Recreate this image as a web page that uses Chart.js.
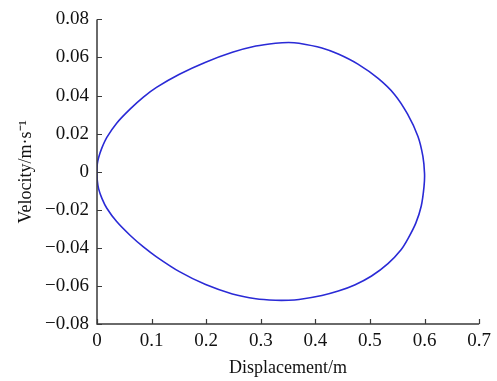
<!DOCTYPE html>
<html>
<head>
<meta charset="utf-8">
<script src="https://cdn.jsdelivr.net/npm/chart.js@4/dist/chart.umd.min.js"></script>
<style>
html,body{margin:0;padding:0;background:#fff;}
#wrap{width:497px;height:381px;}
</style>
</head>
<body>
<div id="wrap"><canvas id="c" width="497" height="381"></canvas></div>
<script>
// Phase trajectory: displacement (m) and velocity (m/s), traced as a closed loop
const displacement = [0, 0.0005, 0.003, 0.009, 0.018, 0.036, 0.061, 0.085, 0.109, 0.151, 0.199, 0.248, 0.291, 0.327, 0.351, 0.370, 0.412, 0.442, 0.478, 0.515, 0.545, 0.569, 0.588, 0.597, 0.600,
  0.599, 0.594, 0.584, 0.570, 0.557, 0.533, 0.503, 0.472, 0.442, 0.412, 0.370, 0.351, 0.327, 0.291, 0.248, 0.199, 0.151, 0.109, 0.085, 0.061, 0.036, 0.018, 0.009, 0.003, 0.0005, 0];
const velocity = [0, 0.004, 0.0075, 0.0125, 0.018, 0.0255, 0.0330, 0.0392, 0.0443, 0.0512, 0.0575, 0.0627, 0.0660, 0.0675, 0.0679, 0.0675, 0.0650, 0.0618, 0.0565, 0.0490, 0.0406, 0.0302, 0.0185, 0.0080, -0.0010,
  -0.0080, -0.0180, -0.0270, -0.0350, -0.0410, -0.0483, -0.0548, -0.0595, -0.0627, -0.0650, -0.0671, -0.0675, -0.0675, -0.0667, -0.0642, -0.0593, -0.0525, -0.0447, -0.0395, -0.0335, -0.0262, -0.0192, -0.0140, -0.0090, -0.0045, 0];
const xTicks = [0, 0.1, 0.2, 0.3, 0.4, 0.5, 0.6, 0.7];
const yTicks = [-0.08, -0.06, -0.04, -0.02, 0, 0.02, 0.04, 0.06, 0.08];

const points = displacement.map((d, i) => ({x: d, y: velocity[i]}));
const FONT = "'Liberation Serif', 'Times New Roman', serif";
const AXIS = '#3a3a3a';
const fmt = v => String(v).replace('-', '\u2212');

const inwardTicks = {
  id: 'inwardTicks',
  afterDraw(chart) {
    const ctx = chart.ctx;
    const xs = chart.scales.x, ys = chart.scales.y;
    const area = chart.chartArea;
    ctx.save();
    ctx.strokeStyle = AXIS;
    ctx.lineWidth = 1.5;
    ctx.beginPath();
    ctx.moveTo(area.left, area.top);
    ctx.lineTo(area.left, area.bottom);
    ctx.lineTo(area.right, area.bottom);
    ctx.stroke();
    ctx.lineWidth = 1.2;
    ctx.beginPath();
    xTicks.forEach(v => {
      const px = Math.round(xs.getPixelForValue(v)) + 0.5;
      ctx.moveTo(px, area.bottom);
      ctx.lineTo(px, area.bottom - 5);
    });
    yTicks.forEach(v => {
      const py = Math.round(ys.getPixelForValue(v)) + 0.5;
      ctx.moveTo(area.left, py);
      ctx.lineTo(area.left + 5, py);
    });
    ctx.stroke();
    ctx.restore();
  }
};

new Chart(document.getElementById('c'), {
  type: 'scatter',
  data: {
    datasets: [{
      data: points,
      showLine: true,
      borderColor: '#2a2ad6',
      borderWidth: 1.6,
      pointRadius: 0,
      tension: 0.3,
      fill: false
    }]
  },
  options: {
    responsive: false,
    animation: false,
    events: [],
    layout: {padding: {top: 18, right: 15, left: 0, bottom: 0}},
    plugins: {legend: {display: false}, tooltip: {enabled: false}},
    scales: {
      x: {
        type: 'linear', min: 0, max: 0.7,
        afterFit(s) { s.height = 57; },
        afterBuildTicks(s) { s.ticks = xTicks.map(v => ({value: v})); },
        grid: {display: false, drawTicks: false},
        border: {display: false},
        ticks: {color: '#111', font: {family: FONT, size: 19}, padding: 6, maxRotation: 0,
          callback: fmt},
        title: {display: true, text: 'Displacement/m', color: '#111', font: {family: FONT, size: 18}, padding: {top: 0, bottom: 2}}
      },
      y: {
        type: 'linear', min: -0.08, max: 0.08,
        afterFit(s) { s.width = 97; },
        afterBuildTicks(s) { s.ticks = yTicks.map(v => ({value: v})); },
        grid: {display: false, drawTicks: false},
        border: {display: false},
        ticks: {color: '#111', font: {family: FONT, size: 19}, padding: 8,
          callback: fmt},
        title: {display: true, text: 'Velocity/m·s⁻¹', color: '#111', font: {family: FONT, size: 18}, padding: {top: 15, bottom: 0}}
      }
    }
  },
  plugins: [inwardTicks]
});
</script>
</body>
</html>
